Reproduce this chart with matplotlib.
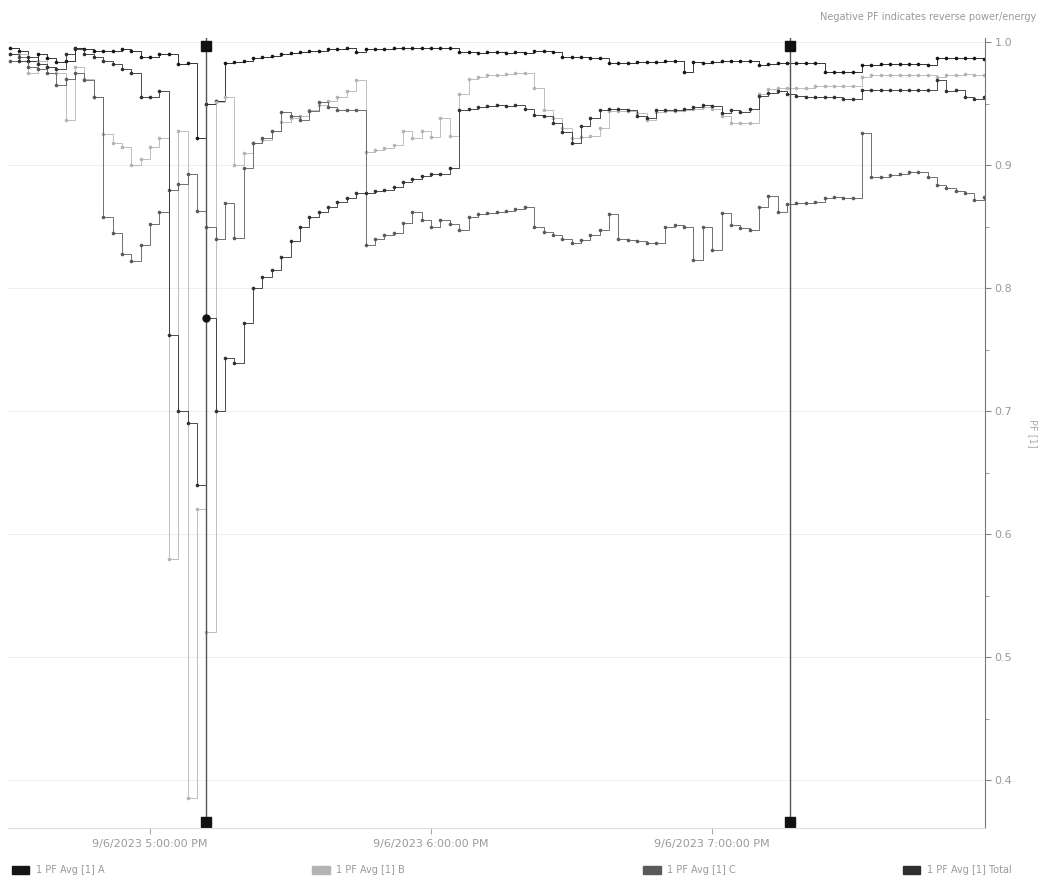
import pandas as pd
import matplotlib
matplotlib.use("Agg")
import matplotlib.pyplot as plt
from matplotlib.patches import Rectangle

# 2-minute PF samples from 4:30 PM
start_time = "2023-09-06 16:30:00"
n_points = 105

pf_a = [0.995, 0.993, 0.985, 0.99, 0.987, 0.984, 0.985, 0.995, 0.994, 0.993,
        0.993, 0.993, 0.994, 0.993, 0.988, 0.988, 0.99, 0.99, 0.982, 0.983,
        0.922, 0.95, 0.952, 0.983, 0.984, 0.985, 0.987, 0.988, 0.989, 0.99,
        0.991, 0.992, 0.993, 0.993, 0.994, 0.994, 0.995, 0.992, 0.994, 0.994,
        0.994, 0.995, 0.995, 0.995, 0.995, 0.995, 0.995, 0.995, 0.992, 0.992,
        0.991, 0.992, 0.992, 0.991, 0.992, 0.991, 0.993, 0.993, 0.992, 0.988,
        0.988, 0.988, 0.987, 0.987, 0.983, 0.983, 0.983, 0.984, 0.984, 0.984,
        0.985, 0.985, 0.976, 0.984, 0.983, 0.984, 0.985, 0.985, 0.985, 0.985,
        0.981, 0.982, 0.983, 0.983, 0.983, 0.983, 0.983, 0.976, 0.976, 0.976,
        0.976, 0.981, 0.981, 0.982, 0.982, 0.982, 0.982, 0.982, 0.981, 0.987,
        0.987, 0.987, 0.987, 0.987, 0.986]

pf_b = [0.99, 0.99, 0.975, 0.985, 0.98, 0.975, 0.937, 0.98, 0.97, 0.955,
        0.925, 0.918, 0.915, 0.90, 0.905, 0.915, 0.922, 0.58, 0.928, 0.385,
        0.62, 0.52, 0.951, 0.955, 0.90, 0.91, 0.918, 0.92, 0.928, 0.935,
        0.938, 0.94, 0.945, 0.949, 0.952, 0.955, 0.96, 0.969, 0.911, 0.912,
        0.914, 0.916, 0.928, 0.922, 0.928, 0.923, 0.938, 0.924, 0.958, 0.97,
        0.972, 0.973, 0.973, 0.974, 0.975, 0.975, 0.963, 0.945, 0.938, 0.93,
        0.922, 0.923, 0.924, 0.93, 0.944, 0.944, 0.944, 0.942, 0.937, 0.943,
        0.944, 0.944, 0.945, 0.946, 0.947, 0.946, 0.94, 0.934, 0.934, 0.934,
        0.958, 0.962, 0.963, 0.963, 0.963, 0.963, 0.964, 0.964, 0.964, 0.964,
        0.964, 0.972, 0.973, 0.973, 0.973, 0.973, 0.973, 0.973, 0.973, 0.972,
        0.973, 0.973, 0.974, 0.973, 0.973]

pf_c = [0.985, 0.988, 0.98, 0.978, 0.975, 0.965, 0.97, 0.975, 0.969, 0.955,
        0.858, 0.845, 0.828, 0.822, 0.835, 0.852, 0.862, 0.88, 0.885, 0.893,
        0.863, 0.85, 0.84, 0.869, 0.841, 0.898, 0.918, 0.922, 0.928, 0.943,
        0.94, 0.937, 0.944, 0.951, 0.947, 0.945, 0.945, 0.945, 0.835, 0.84,
        0.843, 0.845, 0.853, 0.862, 0.855, 0.85, 0.855, 0.852, 0.847, 0.858,
        0.86, 0.861, 0.862, 0.863, 0.864, 0.866, 0.85, 0.846, 0.843, 0.84,
        0.837, 0.839, 0.843, 0.847, 0.86, 0.84, 0.839, 0.838, 0.837, 0.837,
        0.85, 0.851, 0.85, 0.823, 0.85, 0.831, 0.861, 0.851, 0.849, 0.847,
        0.866, 0.875, 0.862, 0.868, 0.869, 0.869, 0.87, 0.873, 0.874, 0.873,
        0.873, 0.926, 0.89, 0.89, 0.892, 0.893, 0.894, 0.894, 0.89, 0.884,
        0.881, 0.879, 0.877, 0.872, 0.874]

pf_total = [0.99, 0.985, 0.988, 0.982, 0.98, 0.978, 0.99, 0.994, 0.99, 0.988,
            0.985, 0.982, 0.978, 0.975, 0.955, 0.955, 0.96, 0.762, 0.70, 0.69,
            0.64, 0.776, 0.70, 0.743, 0.739, 0.772, 0.80, 0.809, 0.815, 0.825,
            0.838, 0.85, 0.858, 0.862, 0.866, 0.87, 0.873, 0.877, 0.877, 0.879,
            0.88, 0.882, 0.886, 0.889, 0.891, 0.893, 0.893, 0.898, 0.945, 0.946,
            0.947, 0.948, 0.949, 0.948, 0.949, 0.946, 0.941, 0.94, 0.934, 0.927,
            0.918, 0.932, 0.938, 0.945, 0.946, 0.946, 0.945, 0.94, 0.938, 0.945,
            0.945, 0.945, 0.946, 0.947, 0.949, 0.948, 0.942, 0.945, 0.943, 0.946,
            0.956, 0.959, 0.96, 0.958, 0.956, 0.955, 0.955, 0.955, 0.955, 0.954,
            0.954, 0.961, 0.961, 0.961, 0.961, 0.961, 0.961, 0.961, 0.961, 0.969,
            0.96, 0.961, 0.955, 0.954, 0.955]

series_names = ["1 PF Avg [1] A", "1 PF Avg [1] B", "1 PF Avg [1] C", "1 PF Avg [1] Total"]
series_colors = ["#151515", "#b4b4b4", "#5a5a5a", "#303030"]

tick_times = ["2023-09-06 17:00:00", "2023-09-06 18:00:00", "2023-09-06 19:00:00"]
tick_labels = ["9/6/2023 5:00:00 PM", "9/6/2023 6:00:00 PM", "9/6/2023 7:00:00 PM"]
cursor_times = ["2023-09-06 17:12:00", "2023-09-06 19:16:35"]

times = pd.date_range(start_time, periods=n_points, freq="2min")
df = pd.DataFrame({"A": pf_a, "B": pf_b, "C": pf_c, "Total": pf_total}, index=times)

fig = plt.figure(figsize=(10.47, 8.91), dpi=100)
ax = fig.add_axes([0.0076, 0.0707, 0.9332, 0.8866])

# step lines, thin, with small dot per sample
for col, color in zip(df.columns, series_colors):
    ax.plot(df.index, df[col], drawstyle="steps-post", color=color, lw=0.6,
            marker="o", markersize=2.6, markeredgewidth=0)

# cursors with handles at top and bottom
for ct in pd.to_datetime(cursor_times):
    ax.axvline(ct, color="#555555", lw=1.0)
    ax.plot([ct, ct], [0.99, 0.008], transform=ax.get_xaxis_transform(), ls="none",
            marker="s", markersize=6.5, color="#111111")
cursor_value = df["Total"].asof(pd.to_datetime(cursor_times[0]))
ax.plot([pd.to_datetime(cursor_times[0])], [cursor_value], ls="none", marker="o",
        markersize=5, color="#111111")

ax.set_xlim(times[0] - pd.Timedelta(seconds=20), times[-1] + pd.Timedelta(seconds=15))
ax.set_ylim(0.361, 1.0033)

ax.yaxis.tick_right()
ax.yaxis.set_label_position("right")
ax.set_yticks([0.4, 0.5, 0.6, 0.7, 0.8, 0.9, 1.0])
ax.set_yticks([0.45, 0.55, 0.65, 0.75, 0.85, 0.95], minor=True)
ax.set_yticklabels(["0.4", "0.5", "0.6", "0.7", "0.8", "0.9", "1.0"])
ax.set_ylabel("PF [1]", rotation=270, labelpad=18, color="#aaaaaa", fontsize=7)

ax.set_xticks(pd.to_datetime(tick_times))
ax.set_xticklabels(tick_labels)

ax.tick_params(axis="y", which="both", colors="#888888", labelcolor="#9a9a9a",
               labelsize=8, length=4, pad=3)
ax.tick_params(axis="y", which="minor", length=3)
ax.tick_params(axis="x", colors="#aaaaaa", labelcolor="#9a9a9a", labelsize=8,
               length=4, pad=4)

for side in ["left", "top"]:
    ax.spines[side].set_visible(False)
ax.spines["right"].set_color("#777777")
ax.spines["bottom"].set_color("#dddddd")

ax.grid(axis="y", color="#f0f0f0", lw=0.7)
ax.set_axisbelow(True)

fig.text(0.99, 0.981, "Negative PF indicates reverse power/energy", ha="right",
         va="center", fontsize=7, color="#9a9a9a")

# legend row along the bottom
legend_x = [0.011, 0.298, 0.614, 0.862]
for name, color, lx in zip(series_names, series_colors, legend_x):
    fig.patches.append(Rectangle((lx, 0.019), 0.017, 0.009, transform=fig.transFigure,
                                 color=color))
    fig.text(lx + 0.023, 0.0235, name, ha="left", va="center", fontsize=7, color="#9a9a9a")

fig.savefig("out.png", dpi=100)
